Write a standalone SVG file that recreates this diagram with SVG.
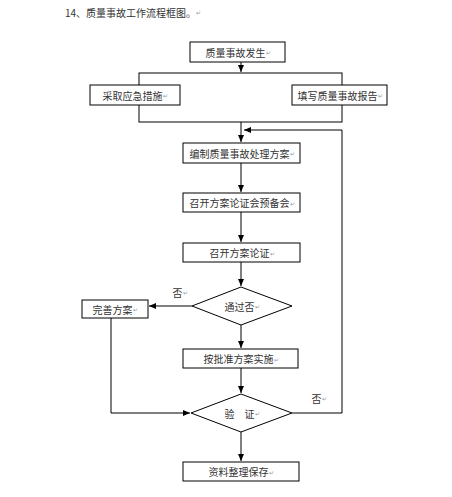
<svg xmlns="http://www.w3.org/2000/svg" width="452" height="497" viewBox="0 0 452 497">
<defs>
<marker id="ah" markerWidth="8" markerHeight="8" refX="7" refY="4" orient="auto" markerUnits="userSpaceOnUse">
<path d="M0,1 L7,4 L0,7 Z" fill="#000"/>
</marker>
<style>
.box{fill:#fff;stroke:#000;stroke-width:1}
.ln{fill:none;stroke:#000;stroke-width:1}
.t{font-family:"Noto Sans CJK SC","Noto Sans",sans-serif;font-size:10px;fill:#333;text-anchor:middle;dominant-baseline:central}
.pm{font-size:6px;fill:#999}
</style>
</defs>
<rect width="452" height="497" fill="#fff"/>
<text class="t" x="65" y="12" style="text-anchor:start">14、质量事故工作流程框图。<tspan class="pm">↵</tspan></text>
<g id="connectors">
<line class="ln" x1="241" y1="62" x2="241" y2="72" marker-end="url(#ah)"/>
<rect class="ln" x="139" y="73" width="203" height="49"/>
<line class="ln" x1="241" y1="122" x2="241" y2="142" marker-end="url(#ah)"/>
<polyline class="ln" points="292,413 342,413 342,130 244,130" marker-end="url(#ah)"/>
<line class="ln" x1="241" y1="163" x2="241" y2="192" marker-end="url(#ah)"/>
<line class="ln" x1="241" y1="212" x2="241" y2="242" marker-end="url(#ah)"/>
<line class="ln" x1="241" y1="262" x2="241" y2="286" marker-end="url(#ah)"/>
<line class="ln" x1="192" y1="306" x2="149" y2="306" marker-end="url(#ah)"/>
<line class="ln" x1="241" y1="325" x2="241" y2="348" marker-end="url(#ah)"/>
<line class="ln" x1="241" y1="368" x2="241" y2="393" marker-end="url(#ah)"/>
<polyline class="ln" points="111,318 111,413 190,413" marker-end="url(#ah)"/>
<line class="ln" x1="241" y1="432" x2="241" y2="461" marker-end="url(#ah)"/>
</g>
<g id="n1"><rect class="box" x="190" y="42" width="95" height="20"/><text class="t" x="238" y="52">质量事故发生<tspan class="pm">↵</tspan></text></g>
<g id="n2"><rect class="box" x="90" y="85" width="90" height="20"/><text class="t" x="135" y="95">采取应急措施<tspan class="pm">↵</tspan></text></g>
<g id="n3"><rect class="box" x="292" y="85" width="95" height="20"/><text class="t" x="340" y="95">填写质量事故报告<tspan class="pm">↵</tspan></text></g>
<g id="n4"><rect class="box" x="183" y="143" width="117" height="20"/><text class="t" x="242" y="153">编制质量事故处理方案<tspan class="pm">↵</tspan></text></g>
<g id="n5"><rect class="box" x="183" y="193" width="117" height="19"/><text class="t" x="242" y="202.5">召开方案论证会预备会<tspan class="pm">↵</tspan></text></g>
<g id="n6"><rect class="box" x="183" y="243" width="117" height="19"/><text class="t" x="242" y="252.5">召开方案论证<tspan class="pm">↵</tspan></text></g>
<g id="n7"><polygon class="box" points="241,287 292,306 241,325 192,306"/><text class="t" x="242" y="306">通过否<tspan class="pm">↵</tspan></text></g>
<g id="n8"><rect class="box" x="82" y="300" width="66" height="18"/><text class="t" x="115" y="309">完善方案<tspan class="pm">↵</tspan></text></g>
<g id="l1"><text class="t" x="180" y="292">否<tspan class="pm">↵</tspan></text></g>
<g id="n9"><rect class="box" x="183" y="349" width="115" height="19"/><text class="t" x="241" y="358.5">按批准方案实施<tspan class="pm">↵</tspan></text></g>
<g id="n10"><polygon class="box" points="241,394 292,413 241,432 191,413"/><text class="t" x="242" y="413" xml:space="preserve">验　证<tspan class="pm">↵</tspan></text></g>
<g id="l2"><text class="t" x="319" y="398">否<tspan class="pm">↵</tspan></text></g>
<g id="n11"><rect class="box" x="183" y="462" width="116" height="19"/><text class="t" x="241" y="471.5">资料整理保存<tspan class="pm">↵</tspan></text></g>
</svg>
